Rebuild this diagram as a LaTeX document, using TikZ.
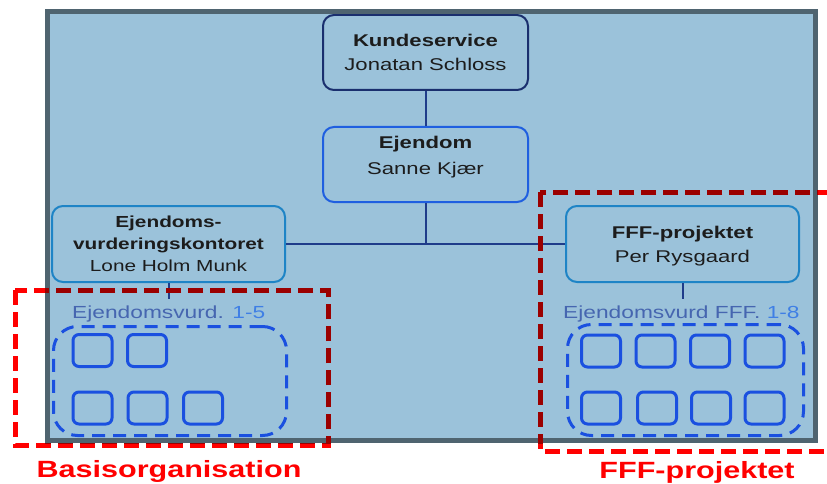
\documentclass[tikz,border=0pt]{standalone}
\usepackage{fontspec}
\setmainfont{Liberation Sans}[FakeStretch=1.3]
\definecolor{panelfill}{HTML}{9BC2DA}
\definecolor{panelline}{HTML}{4F6470}
\definecolor{navy}{HTML}{1A2F6E}
\definecolor{royal}{HTML}{1F5FE0}
\definecolor{cerul}{HTML}{1E84C6}
\definecolor{connc}{HTML}{1F3C8A}
\definecolor{unitblue}{HTML}{1A50E0}
\definecolor{lblgray}{HTML}{4666B0}
\definecolor{lblblue}{HTML}{3F7FE5}
\definecolor{redb}{HTML}{FF0000}
\definecolor{redd}{HTML}{9B0000}
\definecolor{txt}{HTML}{1C1C1C}
\tikzset{
  orgbox/.style={draw, rounded corners=11pt, line width=2pt, minimum width=205pt,
    minimum height=75pt, align=center, inner sep=0pt, text=txt,
    font=\fontsize{17}{24}\selectfont},
  unit/.style={draw=unitblue, line width=3pt, rounded corners=6pt, minimum width=39pt,
    minimum height=32pt, inner sep=0pt},
  group/.style={draw=unitblue, line width=3pt, dash pattern=on 13pt off 8pt,
    rounded corners=24pt, inner sep=0pt},
  redframe/.style={line width=5pt, dash pattern=on 15pt off 7pt},
  conn/.style={draw=connc, line width=2pt},
  grplabel/.style={anchor=base west, inner sep=0pt, font=\fontsize{17.5}{20}\selectfont},
  redlabel/.style={anchor=base, inner sep=0pt, text=redb,
    font=\fontsize{23.5}{28}\selectfont\bfseries}
}
\begin{document}
\begin{tikzpicture}[x=1pt,y=-1pt]
\useasboundingbox (0,0) rectangle (827,484);
\clip (0,0) rectangle (827,484);
% panel
\fill[panelfill] (45,9) rectangle (818,443);
% boxes
\node[orgbox, draw=navy, text depth=0pt] (ks) at (425.5,52.5)
  {\textbf{Kundeservice}\\Jonatan Schloss};
\node[orgbox, draw=royal, text depth=19pt, font=\fontsize{17}{26}\selectfont] (ejd) at (425.5,164.5)
  {\textbf{Ejendom}\\Sanne Kjær};
\node[orgbox, draw=cerul, minimum width=233pt, minimum height=76pt, text depth=1.5pt,
  font=\fontsize{16}{22}\selectfont] (evk) at (168.5,244)
  {\textbf{Ejendoms-}\\\textbf{vurderingskontoret}\\Lone Holm Munk};
\node[orgbox, draw=cerul, minimum width=233pt, minimum height=76pt, text depth=0pt] (fff) at (682.5,244)
  {\textbf{FFF-projektet}\\Per Rysgaard};
\coordinate (evkend) at (168.5,299);
\coordinate (fffend) at (682.5,299);
% connectors
\draw[conn] (ks.south) -- (ejd.north);
\draw[conn] (ejd.south) -- (ejd.south |- evk.east);
\draw[conn] (evk.east) -- (fff.west);
\draw[conn] (evk.south) -- (evkend);
\draw[conn] (fff.south) -- (fffend);
% groups
\node[grplabel] (lblL) at (72,318) {\textcolor{lblgray}{Ejendomsvurd.} \textcolor{lblblue}{1-5}};
\node[grplabel] (lblR) at (563,318) {\textcolor{lblgray}{Ejendomsvurd FFF.} \textcolor{lblblue}{1-8}};
\node[group, minimum width=233pt, minimum height=109pt] (grpL) at (170,381) {};
\node[group, minimum width=236pt, minimum height=111pt] (grpR) at (685.5,380) {};
% units left
\node[unit] (l1) at (92.5,350.5) {};
\node[unit] (l2) at (147,350.5) {};
\node[unit] (l3) at (92.5,408) {};
\node[unit] (l4) at (147.5,408) {};
\node[unit] (l5) at (203,408) {};
% units right
\node[unit] (r1) at (601,351) {};
\node[unit] (r2) at (655.5,351) {};
\node[unit] (r3) at (710,351) {};
\node[unit] (r4) at (764.5,351) {};
\node[unit] (r5) at (601,408) {};
\node[unit] (r6) at (657,408) {};
\node[unit] (r7) at (711,408) {};
\node[unit] (r8) at (764.5,408) {};
% panel border
\draw[panelline, line width=5pt] (47.5,11.5) rectangle (815.5,440.5);
% red frames
\draw[redframe, draw=redb] (15,290) rectangle (328,445);
\draw[redframe, draw=redb] (540,192) rectangle (845,451);
\begin{scope}
  \clip (45,9) rectangle (818,443);
  \draw[redframe, draw=redd] (15,290) rectangle (328,445);
  \draw[redframe, draw=redd] (540,192) rectangle (845,451);
\end{scope}
\node[redlabel] (basis) at (169,477) {Basisorganisation};
\node[redlabel] (fffl) at (697,478) {FFF-projektet};
\end{tikzpicture}
\end{document}
